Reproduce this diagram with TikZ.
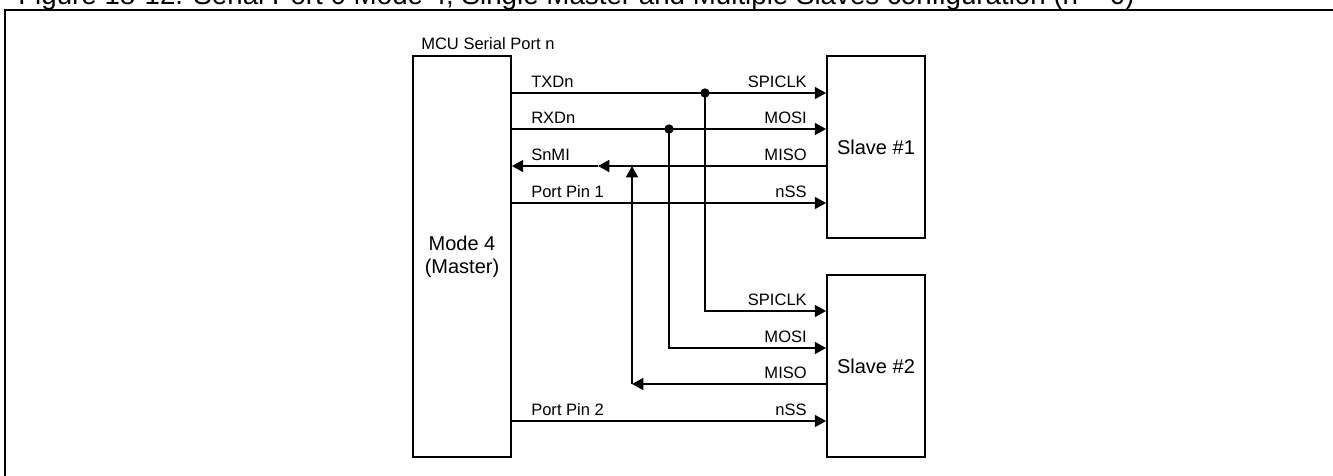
\documentclass[tikz,border=0pt]{standalone}
\usepackage{fontspec}
\setmainfont{Liberation Sans}
\usetikzlibrary{arrows.meta}
\begin{document}
\begin{tikzpicture}[x=0.75pt,y=-0.75pt,
  box/.style={draw, line width=1.35pt, minimum width=73.5pt, inner sep=0pt, font=\fontsize{15}{17.5}\selectfont, align=center},
  sig/.style={line width=1.35pt},
  arr/.style={sig, -{Triangle[length=8.5pt,width=9pt]}},
  lbl/.style={inner sep=0pt, font=\fontsize{12.4}{14}\selectfont},
  jdot/.style={circle, fill, inner sep=0pt, minimum size=7pt}
]
\useasboundingbox (0,0) rectangle (1333,475);
\clip (0,0) rectangle (1333,475);

% title (clipped at the top) and frame
\node[anchor=base west, inner sep=0pt, font=\fontsize{20.8}{24}\selectfont] (title) at (18,4.5)
  {Figure 18-12. Serial Port 0 Mode 4, Single Master and Multiple Slaves configuration (n = 0)};
\draw[line width=1.9pt] (5,490) -- (5,10) -- (1345,10);

% blocks
\node[lbl, anchor=base west] (mcu) at (421,49) {MCU Serial Port n};
\node[box, minimum height=300.75pt] (m) at (462,256.5) {Mode 4\\(Master)};
\node[box, minimum height=136.5pt] (s1) at (876,147) {Slave \#1};
\node[box, minimum height=136.5pt] (s2) at (876,366) {Slave \#2};

% rows
\coordinate (r1) at (0,93);
\coordinate (r2) at (0,129);
\coordinate (r3) at (0,166);
\coordinate (r4) at (0,203);
\coordinate (q1) at (0,311);
\coordinate (q2) at (0,348);
\coordinate (q3) at (0,384);
\coordinate (q4) at (0,421);
\coordinate (jt) at (705,93);
\coordinate (jr) at (669,129);
\coordinate (mx) at (598,166);
\coordinate (jm) at (632,384);
\coordinate (jmtop) at (632,166);

% connectors
\draw[arr] (m.east |- r1) -- (s1.west |- r1);
\draw[arr] (m.east |- r2) -- (s1.west |- r2);
\draw[arr] (s1.west |- r3) -- (mx);
\draw[arr] (mx) -- (m.east |- r3);
\draw[arr] (m.east |- r4) -- (s1.west |- r4);
\draw[arr] (jt) |- (s2.west |- q1);
\draw[arr] (jr) |- (s2.west |- q2);
\draw[arr] (s2.west |- q3) -- (jm);
\draw[arr] (jm) -- (jmtop);
\draw[arr] (m.east |- q4) -- (s2.west |- q4);
\node[jdot] (dt) at (jt) {};
\node[jdot] (dr) at (jr) {};

% labels
\node[lbl, anchor=base west] (l1) at (531,87) {TXDn};
\node[lbl, anchor=base west] (l2) at (531,123) {RXDn};
\node[lbl, anchor=base west] (l3) at (531,160) {SnMI};
\node[lbl, anchor=base west] (l4) at (531,197) {Port Pin 1};
\node[lbl, anchor=base west] (l5) at (531,415) {Port Pin 2};
\node[lbl, anchor=base east] (a1) at (807,87) {SPICLK};
\node[lbl, anchor=base east] (a2) at (807,123) {MOSI};
\node[lbl, anchor=base east] (a3) at (807,160) {MISO};
\node[lbl, anchor=base east] (a4) at (807,197) {nSS};
\node[lbl, anchor=base east] (b1) at (807,305) {SPICLK};
\node[lbl, anchor=base east] (b2) at (807,342) {MOSI};
\node[lbl, anchor=base east] (b3) at (807,378) {MISO};
\node[lbl, anchor=base east] (b4) at (807,415) {nSS};
\end{tikzpicture}
\end{document}
